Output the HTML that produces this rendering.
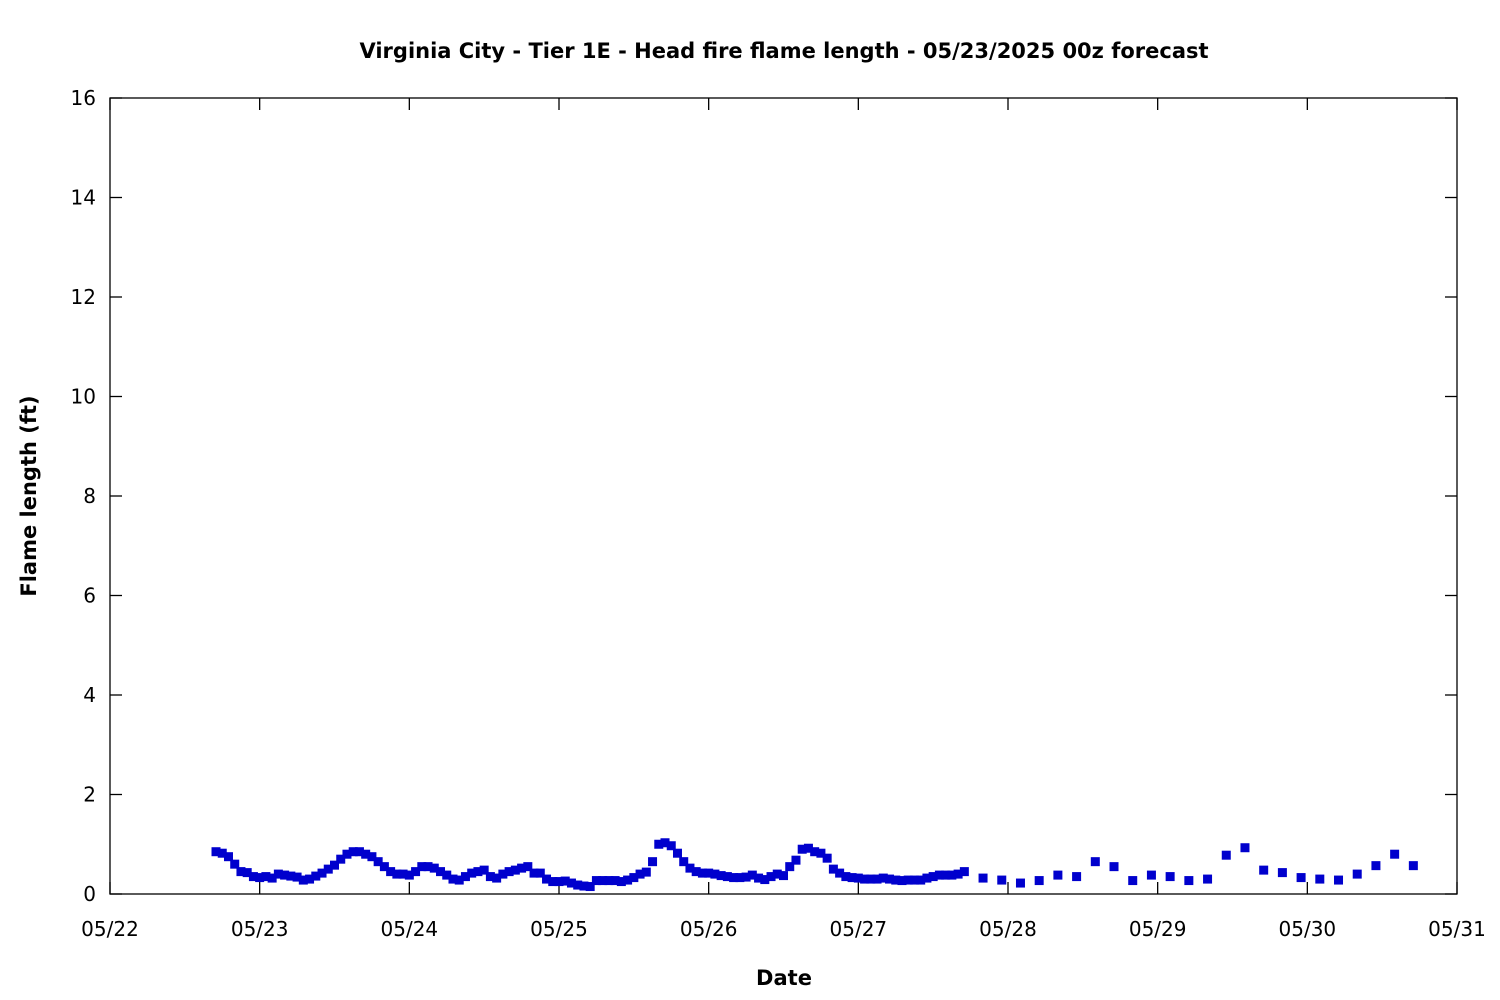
<!DOCTYPE html>
<html><head><meta charset="utf-8"><style>
body{margin:0;background:#fff;}
svg{display:block;font-family:"DejaVu Sans","Liberation Sans",sans-serif;}
</style></head><body>
<svg id="chart" width="1500" height="1000" xmlns="http://www.w3.org/2000/svg">
<rect width="1500" height="1000" fill="#fff"/>
<text x="784" y="58" text-anchor="middle" font-size="21" font-weight="bold">Virginia City - Tier 1E - Head fire flame length - 05/23/2025 00z forecast</text>
<g id="axes"></g>
<g id="marks"></g>
<rect x="110" y="98" width="1347" height="796" fill="none" stroke="#000" stroke-width="1.3"/>
<text x="784" y="985" text-anchor="middle" font-size="21" font-weight="bold">Date</text>
<text transform="translate(36,496) rotate(-90)" text-anchor="middle" font-size="21" font-weight="bold">Flame length (ft)</text>
</svg>
<script>
const xTickLabels=["05/22","05/23","05/24","05/25","05/26","05/27","05/28","05/29","05/30","05/31"];
const yTickLabels=[0,2,4,6,8,10,12,14,16];
const hourlyStartHour=17; // hours after 05/22 00z
const hourlyValues=[0.85,0.82,0.75,0.6,0.45,0.43,0.35,0.33,0.35,0.32,0.4,0.38,0.36,0.34,0.28,0.3,0.36,0.42,0.5,0.58,0.7,0.8,0.85,0.85,0.8,0.75,0.65,0.55,0.45,0.4,0.4,0.38,0.45,0.55,0.55,0.52,0.45,0.38,0.3,0.28,0.35,0.42,0.45,0.48,0.35,0.32,0.4,0.45,0.48,0.52,0.55,0.42,0.42,0.3,0.25,0.25,0.26,0.22,0.18,0.16,0.15,
0.27,0.27,0.27,0.27,0.25,0.28,0.33,0.4,0.44,0.65,1.0,1.03,0.97,0.82,0.65,0.52,0.45,0.42,0.42,0.40,0.37,0.35,0.33,0.33,0.34,0.38,0.32,0.29,0.35,0.4,0.37,0.55,0.68,0.9,0.92,0.85,0.82,0.72,0.5,0.42,0.35,0.33,0.32,0.3,0.3,0.3,0.32,0.3,0.28,0.27,0.28,0.28,0.28,0.32,0.35,0.38,0.38,0.38,0.4,0.45];
const threeHourlyStartHour=140;
const threeHourlyValues=[0.32,0.28,0.22,0.27,0.38,0.35,0.65,0.55,0.27,0.38,0.35,0.27,0.3,0.78,0.93,0.48,0.43,0.33,0.3,0.28,0.4,0.57,0.8,0.57];

const NS="http://www.w3.org/2000/svg";
const X0=110,X1=1457,Y0=894,Y1=98;
function xScale(h){return X0+h/(9*24)*(X1-X0);}
function yScale(v){return Y0-v/16*(Y0-Y1);}
function mk(t,a){const e=document.createElementNS(NS,t);for(const k in a)e.setAttribute(k,a[k]);return e;}
const axes=document.getElementById('axes'),marks=document.getElementById('marks');
xTickLabels.forEach((l,i)=>{
  const x=xScale(i*24);
  const t1=mk('line',{x1:x,x2:x,y1:Y0,y2:Y0-12,stroke:'#000','stroke-width':1.3});
  
  
  axes.appendChild(t1);
  const t2=mk('line',{x1:x,x2:x,y1:Y1,y2:Y1+12,stroke:'#000','stroke-width':1.3});
  
  
  axes.appendChild(t2);
  const tx=mk('text',{x:x,y:936,'text-anchor':'middle','font-size':20});
  tx.textContent=l;
  
  
  axes.appendChild(tx);
});
yTickLabels.forEach(v=>{
  const y=yScale(v);
  const t1=mk('line',{x1:X0,x2:X0+12,y1:y,y2:y,stroke:'#000','stroke-width':1.3});
  
  
  axes.appendChild(t1);
  const t2=mk('line',{x1:X1,x2:X1-12,y1:y,y2:y,stroke:'#000','stroke-width':1.3});
  
  
  axes.appendChild(t2);
  const tx=mk('text',{x:96,y:y+7,'text-anchor':'end','font-size':20});
  tx.textContent=v;
  
  
  axes.appendChild(tx);
});
function pt(h,v){
  const r=mk('rect',{x:xScale(h)-4.5,y:yScale(v)-4.5,width:9,height:9,fill:'#0000cd'});
  
  
  marks.appendChild(r);
}
hourlyValues.forEach((v,i)=>pt(hourlyStartHour+i,v));
threeHourlyValues.forEach((v,i)=>pt(threeHourlyStartHour+3*i,v));
</script>
</body></html>
